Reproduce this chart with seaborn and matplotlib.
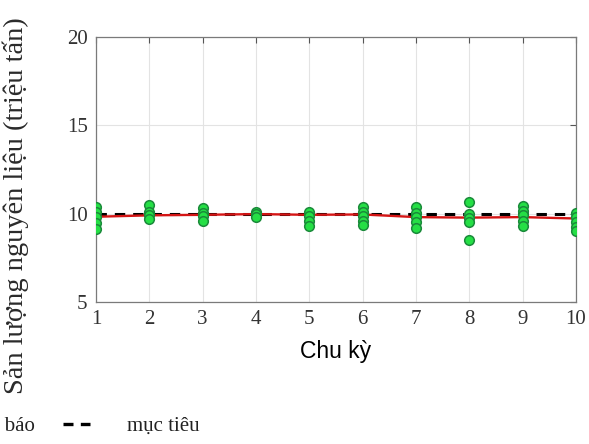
import matplotlib
matplotlib.use("Agg")
import matplotlib.pyplot as plt
import seaborn as sns
import pandas as pd
from matplotlib.lines import Line2D

# Observed yields per cycle (million tonnes)
cycles = [1, 2, 3, 4, 5, 6, 7, 8, 9, 10]
observed = {
    1: [10.35, 10.1, 9.8, 9.45, 9.1],
    2: [10.5, 10.1, 9.9, 9.7],
    3: [10.3, 10.05, 9.85, 9.6],
    4: [10.1, 9.95, 9.8],
    5: [10.1, 9.85, 9.6, 9.3],
    6: [10.35, 10.1, 9.85, 9.6, 9.35],
    7: [10.35, 10.05, 9.8, 9.5, 9.2],
    8: [10.65, 10.0, 9.75, 9.5, 8.5],
    9: [10.4, 10.15, 9.9, 9.6, 9.3],
    10: [10.05, 9.8, 9.5, 9.25, 9.0],
}
forecast = [9.82, 9.9, 9.93, 9.97, 9.93, 9.95, 9.8, 9.77, 9.8, 9.72]
target = [10] * len(cycles)

y_ticks = [5, 10, 15, 20]

sns.set_theme(style="white")
plt.rcParams["font.family"] = ["Liberation Serif", "DejaVu Serif"]

pts = pd.DataFrame(
    [(c, v) for c in cycles for v in observed[c]], columns=["cycle", "value"]
)
line_df = pd.DataFrame({"cycle": cycles, "forecast": forecast, "target": target})

fig = plt.figure(figsize=(5.89, 4.44), dpi=100)
ax = fig.add_axes([0.163, 0.32, 0.815, 0.597])

ax.grid(True, color="#e3e3e3", linewidth=0.8, zorder=0)

sns.lineplot(data=line_df, x="cycle", y="target", ax=ax, color="black",
             linewidth=2.2, zorder=2)
ax.lines[-1].set_dashes((3.4, 2.6))
sns.lineplot(data=line_df, x="cycle", y="forecast", ax=ax, color="#d41515",
             linewidth=1.7, zorder=3)
sns.scatterplot(data=pts, x="cycle", y="value", ax=ax, s=48,
                color="#25df45", edgecolor="#1a8a3a", linewidth=1.1,
                zorder=4, legend=False)

ax.set_xlim(1, 10)
ax.set_ylim(5, 20)
ax.set_xticks(cycles)
ax.set_yticks(y_ticks)
ax.tick_params(axis="both", direction="in", length=4, width=0.8,
               color="#555555", labelsize=15, labelcolor="#333333",
               top=True, right=True, pad=6)
for sp in ax.spines.values():
    sp.set_color("#7a7a7a")
    sp.set_linewidth(0.9)

ax.set_xlabel("Chu kỳ", family=["Liberation Sans", "DejaVu Sans"],
              fontsize=16.5, color="black", labelpad=8)
ax.set_ylabel("Sản lượng nguyên liệu (triệu tấn)", fontsize=20.5,
              color="#2a2a2a")
ax.yaxis.set_label_coords(-0.14, 0.365)

handles = [
    Line2D([], [], color="#d41515", linewidth=1.7),
    Line2D([], [], color="black", linewidth=2.4, dashes=(3, 2.2)),
]
fig.legend(handles, ["Dự báo", "mục tiêu"], loc="center left",
           bbox_to_anchor=(-0.188, 0.04), ncol=2, frameon=False,
           fontsize=15, handlelength=1.3, handletextpad=1.8,
           columnspacing=1.35, labelcolor="#222222")

fig.savefig("out.png", dpi=100, facecolor="white")
